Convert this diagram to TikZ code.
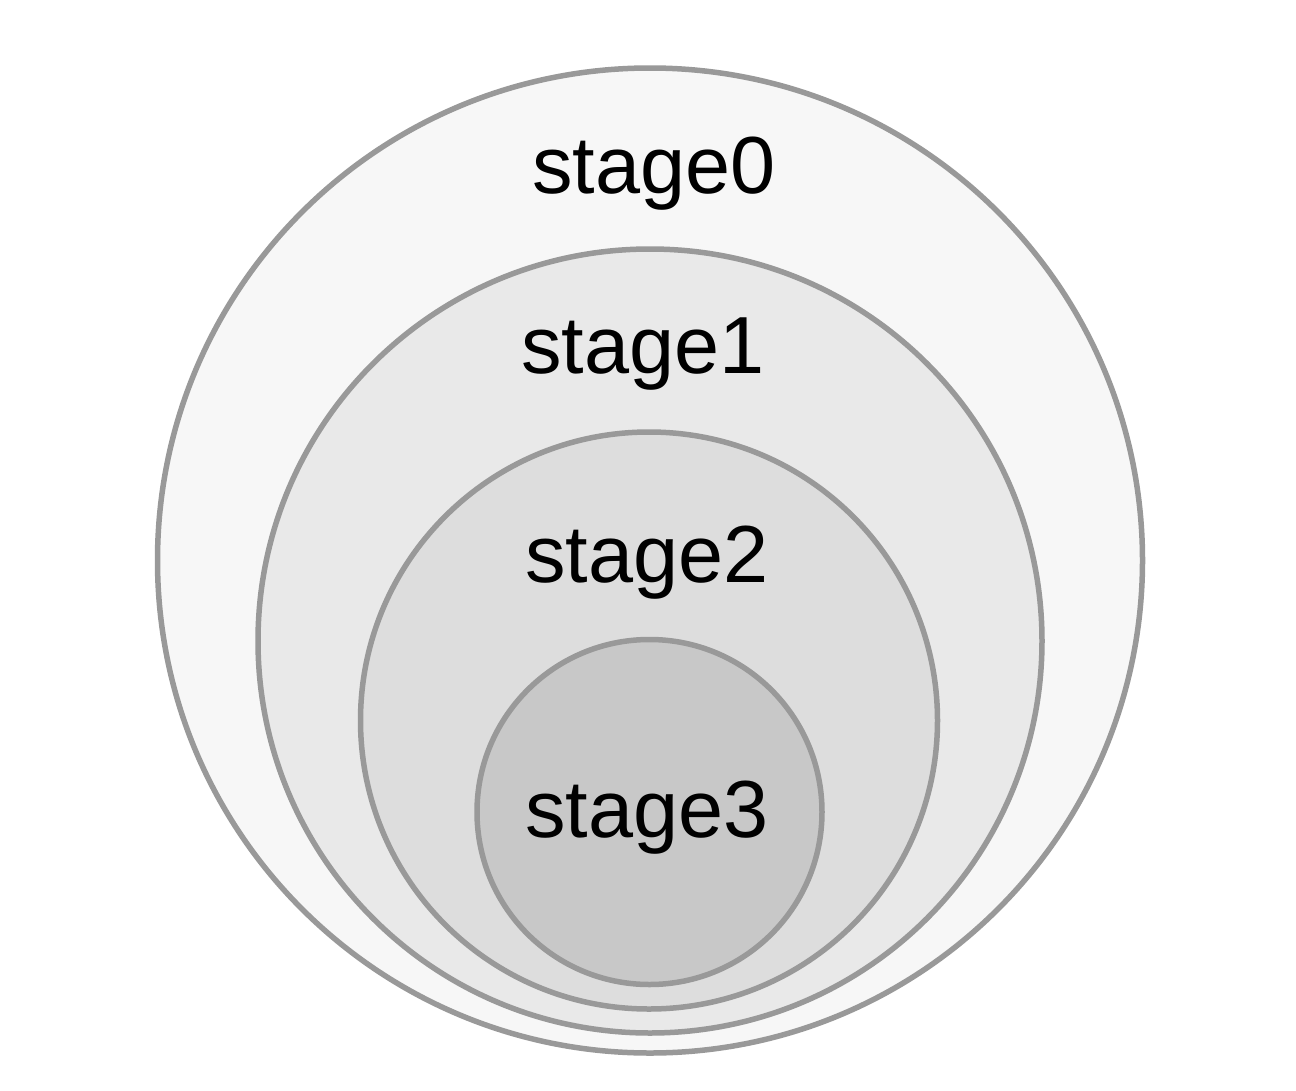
\documentclass[tikz,border=0pt]{standalone}
\usepackage{fontspec}
\setmainfont{Liberation Sans}
\definecolor{ring}{HTML}{999999}
\definecolor{f0}{HTML}{F7F7F7}
\definecolor{f1}{HTML}{E9E9E9}
\definecolor{f2}{HTML}{DDDDDD}
\definecolor{f3}{HTML}{C8C8C8}
\begin{document}
\begin{tikzpicture}[x=1pt,y=-1pt,
  stagering/.style={circle,draw=ring,line width=5.5pt,inner sep=0pt},
  stagelabel/.style={anchor=base,font=\fontsize{81}{92}\selectfont,inner sep=0pt}]
\useasboundingbox (0,0) rectangle (1296,1090);
\fill[white] (0,0) rectangle (1296,1090);
\node[stagering,fill=f0,minimum size=985pt] (c0) at (650,560.5) {};
\node[stagering,fill=f1,minimum size=784pt] (c1) at (650,641) {};
\node[stagering,fill=f2,minimum size=577pt] (c2) at (649,720.5) {};
\node[stagering,fill=f3,minimum size=345pt] (c3) at (649.5,812) {};
\node[stagelabel] (t0) at (654,193) {stage0};
\node[stagelabel] (t1) at (643,373) {stage1};
\node[stagelabel] (t2) at (647,582) {stage2};
\node[stagelabel] (t3) at (647,837) {stage3};
\end{tikzpicture}
\end{document}
